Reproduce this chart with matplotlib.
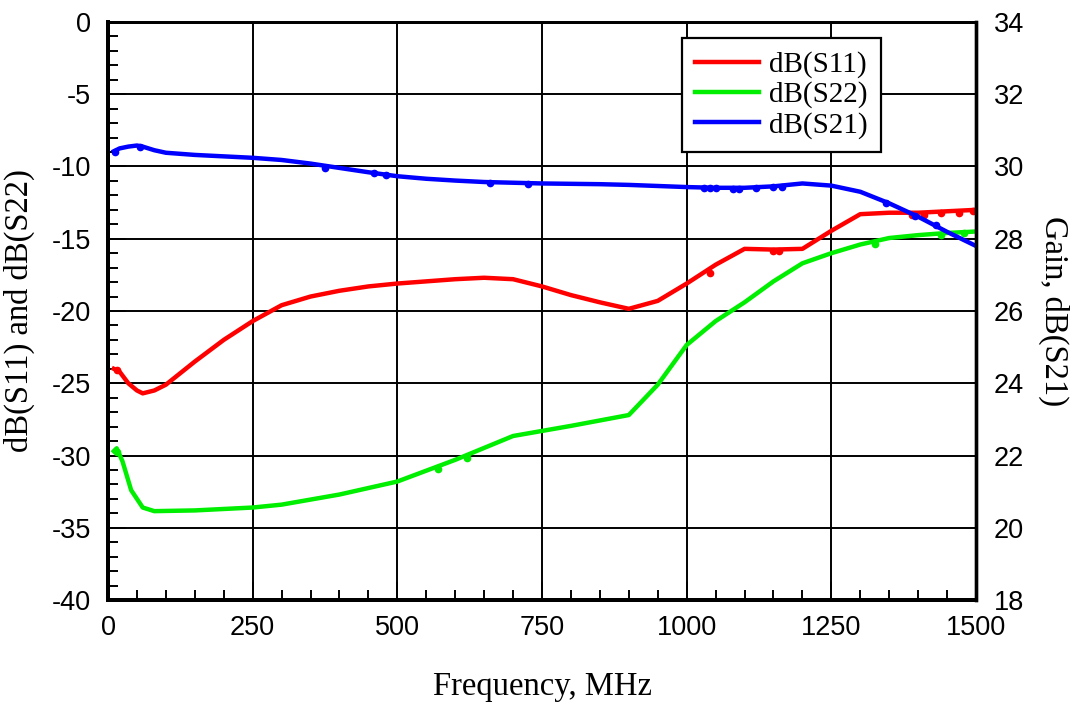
import matplotlib
matplotlib.use("Agg")
import matplotlib.pyplot as plt
from matplotlib.ticker import MultipleLocator

plt.rcParams["axes.unicode_minus"] = False

# frequency grid, MHz
freq = [10, 20, 35, 50, 60, 80, 100, 150, 200, 250, 300, 350, 400, 450, 500,
        550, 600, 650, 700, 750, 800, 850, 900, 950, 1000, 1050, 1100, 1150,
        1200, 1250, 1300, 1350, 1400, 1450, 1500]

# dB(S11), left axis
s11 = [-24.0, -24.2, -25.0, -25.5, -25.7, -25.5, -25.1, -23.5, -22.0, -20.7,
       -19.6, -19.0, -18.6, -18.3, -18.1, -17.95, -17.8, -17.7, -17.8, -18.3,
       -18.9, -19.4, -19.85, -19.3, -18.1, -16.8, -15.7, -15.75, -15.7, -14.45,
       -13.3, -13.2, -13.2, -13.1, -13.0]

# dB(S22), left axis
freq22 = [10, 15, 25, 40, 60, 80, 150, 250, 300, 400, 500, 600, 700, 800, 900,
          950, 1000, 1050, 1100, 1150, 1200, 1250, 1300, 1350, 1400, 1450, 1500]
s22 = [-29.7, -29.5, -30.4, -32.4, -33.6, -33.85, -33.8, -33.6, -33.4, -32.7,
       -31.8, -30.3, -28.65, -27.95, -27.2, -25.1, -22.35, -20.7, -19.4, -17.95,
       -16.7, -16.0, -15.4, -14.95, -14.75, -14.6, -14.5]

# dB(S21) gain, right axis
s21 = [30.42, 30.5, 30.55, 30.58, 30.55, 30.45, 30.38, 30.32, 30.28, 30.24,
       30.18, 30.08, 29.96, 29.84, 29.73, 29.66, 29.61, 29.57, 29.55, 29.53,
       29.52, 29.51, 29.49, 29.46, 29.43, 29.41, 29.41, 29.45, 29.53, 29.47,
       29.3, 28.98, 28.61, 28.19, 27.8]

# stray measurement dots
dots11_f = [15, 1040, 1150, 1160, 1390, 1410, 1440, 1470, 1495]
dots11_v = [-24.05, -17.4, -15.85, -15.85, -13.35, -13.35, -13.25, -13.2, -13.1]
dots22_f = [15, 570, 620, 1325, 1440, 1480]
dots22_v = [-29.75, -30.95, -30.15, -15.35, -14.75, -14.6]
dots21_f = [12, 55, 375, 460, 480, 660, 725, 1030, 1040, 1050, 1080, 1090,
            1120, 1150, 1165, 1345, 1395, 1430]
dots21_v = [30.4, 30.55, 29.97, 29.81, 29.77, 29.54, 29.51, 29.4, 29.4, 29.4,
            29.38, 29.39, 29.4, 29.42, 29.44, 28.98, 28.63, 28.38]

sans = "Liberation Sans"
serif = "Liberation Serif"

fig = plt.figure(figsize=(10.78, 7.04), dpi=100)
ax1 = fig.add_axes([0.1002, 0.1477, 0.8052, 0.8211])
ax2 = ax1.twinx()

red = "#ff0000"
green = "#00ee00"
blue = "#0000ff"

l11, = ax1.plot(freq, s11, color=red, lw=3.2, label="dB(S11)")
l22, = ax1.plot(freq22, s22, color=green, lw=3.2, label="dB(S22)")
ax1.plot(dots11_f, dots11_v, "o", color=red, ms=4.5)
ax1.plot(dots22_f, dots22_v, "o", color=green, ms=4.5)
l21, = ax2.plot(freq, s21, color=blue, lw=3.2, label="dB(S21)")
ax2.plot(dots21_f, dots21_v, "o", color=blue, ms=4.5)

ax1.set_xlim(0, 1500)
ax1.set_ylim(-40, 0)
ax2.set_ylim(18, 34)

ax1.xaxis.set_major_locator(MultipleLocator(250))
ax1.xaxis.set_minor_locator(MultipleLocator(50))
ax1.yaxis.set_major_locator(MultipleLocator(5))
ax1.yaxis.set_minor_locator(MultipleLocator(1))
ax2.yaxis.set_major_locator(MultipleLocator(2))

ax1.grid(True, which="major", color="black", lw=1.4)
ax1.set_axisbelow(True)

ax1.tick_params(axis="both", which="major", direction="in", length=13, width=1.4,
                labelsize=19.5, top=False, right=False)
ax1.tick_params(axis="both", which="minor", direction="in", length=7, width=1.4,
                top=False, right=False)
ax1.tick_params(axis="y", which="major", pad=12)
ax1.tick_params(axis="x", which="major", pad=11)
ax2.tick_params(axis="y", which="major", direction="in", length=0, labelsize=19.5, pad=13)

for lab in ax1.get_xticklabels() + ax1.get_yticklabels() + ax2.get_yticklabels():
    lab.set_fontfamily(sans)

for ax in (ax1, ax2):
    ax.spines["left"].set_linewidth(2.8)
    ax.spines["bottom"].set_linewidth(2.8)
    ax.spines["right"].set_linewidth(2.4)
    ax.spines["top"].set_linewidth(2.0)

ax1.set_xlabel("Frequency, MHz", fontfamily=serif, fontsize=23.5, labelpad=22)
ax1.set_ylabel("dB(S11) and dB(S22)", fontfamily=serif, fontsize=23.5, labelpad=12)
ax2.set_ylabel("Gain, dB(S21)", fontfamily=serif, fontsize=23.5, rotation=270,
               labelpad=32)

leg = ax2.legend(handles=[l11, l22, l21], loc="upper right",
                 bbox_to_anchor=(0.8906, 0.9723), borderaxespad=0,
                 fancybox=False, framealpha=1, edgecolor="black",
                 prop={"family": serif, "size": 21}, handlelength=2.2,
                 handletextpad=0.35, labelspacing=0.12, borderpad=0.45)
leg.get_frame().set_linewidth(1.6)

fig.savefig("out.png", dpi=100)
